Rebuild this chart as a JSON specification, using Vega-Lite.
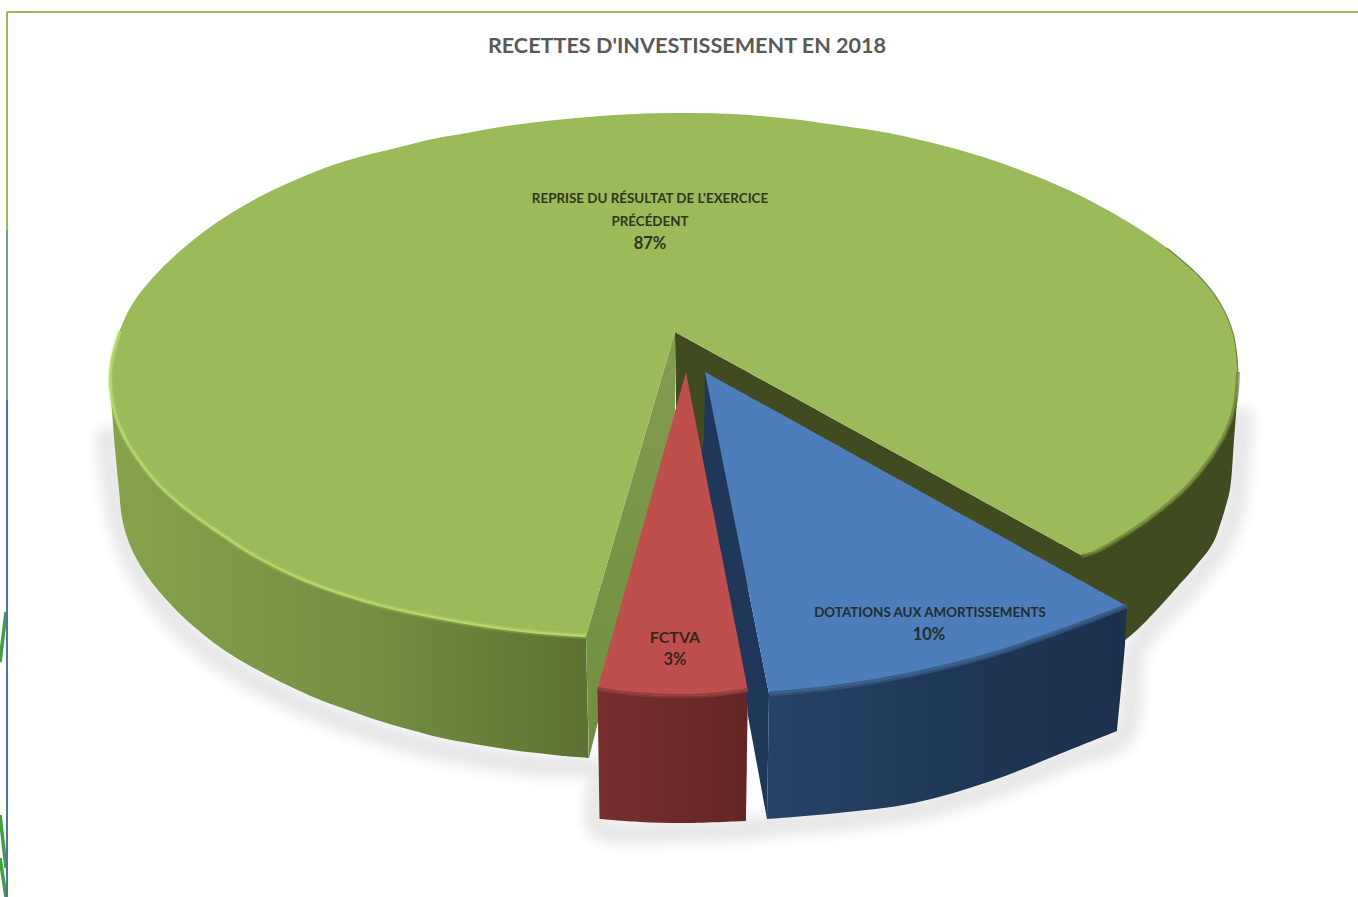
{
"$schema":"https://vega.github.io/schema/vega-lite/v6.json",
"width":1358,"height":897,"padding":0,
"autosize":{"type":"none"},
"background":"#ffffff",
"view":{"stroke":null},
"datasets":{
"labels":[
{"slice":"Reprise","text":"REPRISE DU RÉSULTAT DE L'EXERCICE","x":650,"y":199},
{"slice":"Reprise","text":"PRÉCÉDENT","x":650,"y":222},
{"slice":"Dotations","text":"DOTATIONS AUX AMORTISSEMENTS","x":930,"y":613}
],
"bigLabels":[{"slice":"FCTVA","text":"FCTVA","x":675,"y":638}],
"shares":[
{"slice":"Reprise","share":0.87,"x":650,"y":244},
{"slice":"Dotations","share":0.10,"x":929,"y":635},
{"slice":"FCTVA","share":0.03,"x":675,"y":660}
],
"title":[{"text":"RECETTES D'INVESTISSEMENT EN 2018","x":687,"y":47}],
"outlines":[
{"piece":"shadow","i":0,"x":108,"y":440},{"piece":"shadow","i":1,"x":115,"y":500},{"piece":"shadow","i":2,"x":124,"y":535},{"piece":"shadow","i":3,"x":136,"y":565},{"piece":"shadow","i":4,"x":160,"y":602},{"piece":"shadow","i":5,"x":198,"y":642},{"piece":"shadow","i":6,"x":245,"y":675},{"piece":"shadow","i":7,"x":289,"y":698},{"piece":"shadow","i":8,"x":348,"y":722},{"piece":"shadow","i":9,"x":411,"y":742},{"piece":"shadow","i":10,"x":474,"y":756},{"piece":"shadow","i":11,"x":537,"y":765},{"piece":"shadow","i":12,"x":595,"y":772},{"piece":"shadow","i":13,"x":600,"y":826},{"piece":"shadow","i":14,"x":685,"y":831},{"piece":"shadow","i":15,"x":745,"y":829},{"piece":"shadow","i":16,"x":767,"y":826},{"piece":"shadow","i":17,"x":838,"y":820},{"piece":"shadow","i":18,"x":914,"y":810},{"piece":"shadow","i":19,"x":991,"y":788},{"piece":"shadow","i":20,"x":1067,"y":758},{"piece":"shadow","i":21,"x":1122,"y":735},{"piece":"shadow","i":22,"x":1135,"y":650},{"piece":"shadow","i":23,"x":1156,"y":620},{"piece":"shadow","i":24,"x":1185,"y":590},{"piece":"shadow","i":25,"x":1205,"y":566},{"piece":"shadow","i":26,"x":1222,"y":540},{"piece":"shadow","i":27,"x":1233,"y":510},{"piece":"shadow","i":28,"x":1238,"y":470},{"piece":"shadow","i":29,"x":1241,"y":420},

{"piece":"wallDark","i":0,"x":675,"y":332},{"piece":"wallDark","i":0.5,"x":675,"y":332},{"piece":"wallDark","i":1,"x":1081,"y":555},{"piece":"wallDark","i":1.5,"x":1081,"y":555},{"piece":"wallDark","i":2,"x":1130,"y":532},{"piece":"wallDark","i":3,"x":1162,"y":509},{"piece":"wallDark","i":4,"x":1189,"y":485},{"piece":"wallDark","i":5,"x":1210,"y":459},{"piece":"wallDark","i":6,"x":1226,"y":432},{"piece":"wallDark","i":7,"x":1235,"y":405},{"piece":"wallDark","i":8,"x":1238,"y":378},{"piece":"wallDark","i":9,"x":1237,"y":400},{"piece":"wallDark","i":10,"x":1234,"y":440},{"piece":"wallDark","i":11,"x":1230,"y":489},{"piece":"wallDark","i":12,"x":1225,"y":509},{"piece":"wallDark","i":13,"x":1219,"y":528},{"piece":"wallDark","i":14,"x":1215,"y":539},{"piece":"wallDark","i":15,"x":1208,"y":551},{"piece":"wallDark","i":16,"x":1199,"y":562},{"piece":"wallDark","i":17,"x":1189,"y":574},{"piece":"wallDark","i":18,"x":1179,"y":585},{"piece":"wallDark","i":19,"x":1164,"y":602},{"piece":"wallDark","i":20,"x":1149,"y":618},{"piece":"wallDark","i":21,"x":1137,"y":630},{"piece":"wallDark","i":22,"x":1124,"y":641},{"piece":"wallDark","i":22.5,"x":1124,"y":641},{"piece":"wallDark","i":23,"x":1100,"y":655},{"piece":"wallDark","i":23.5,"x":1100,"y":655},{"piece":"wallDark","i":24,"x":770,"y":640},{"piece":"wallDark","i":24.5,"x":770,"y":640},{"piece":"wallDark","i":25,"x":720,"y":520},{"piece":"wallDark","i":25.5,"x":720,"y":520},{"piece":"wallDark","i":26,"x":700,"y":450},{"piece":"wallDark","i":26.5,"x":700,"y":450},{"piece":"wallDark","i":27,"x":686,"y":400},{"piece":"wallDark","i":27.5,"x":686,"y":400},{"piece":"wallDark","i":28,"x":676,"y":410},{"piece":"wallDark","i":28.5,"x":676,"y":410},

{"piece":"sideGreen","i":0,"x":109,"y":378},{"piece":"sideGreen","i":1,"x":112,"y":405},{"piece":"sideGreen","i":2,"x":121,"y":432},{"piece":"sideGreen","i":3,"x":137,"y":459},{"piece":"sideGreen","i":4,"x":158,"y":485},{"piece":"sideGreen","i":5,"x":185,"y":509},{"piece":"sideGreen","i":6,"x":217,"y":532},{"piece":"sideGreen","i":7,"x":254,"y":556},{"piece":"sideGreen","i":8,"x":296,"y":577},{"piece":"sideGreen","i":9,"x":342,"y":594},{"piece":"sideGreen","i":10,"x":391,"y":608},{"piece":"sideGreen","i":11,"x":444,"y":619},{"piece":"sideGreen","i":12,"x":499,"y":628},{"piece":"sideGreen","i":13,"x":556,"y":634},{"piece":"sideGreen","i":14,"x":586,"y":636},{"piece":"sideGreen","i":14.5,"x":586,"y":636},{"piece":"sideGreen","i":15,"x":589,"y":758},{"piece":"sideGreen","i":15.5,"x":589,"y":758},{"piece":"sideGreen","i":16,"x":563,"y":756},{"piece":"sideGreen","i":17,"x":537,"y":753},{"piece":"sideGreen","i":18,"x":505,"y":749},{"piece":"sideGreen","i":19,"x":474,"y":744},{"piece":"sideGreen","i":20,"x":442,"y":738},{"piece":"sideGreen","i":21,"x":411,"y":730},{"piece":"sideGreen","i":22,"x":380,"y":721},{"piece":"sideGreen","i":23,"x":348,"y":710},{"piece":"sideGreen","i":24,"x":318,"y":699},{"piece":"sideGreen","i":25,"x":289,"y":686},{"piece":"sideGreen","i":26,"x":267,"y":675},{"piece":"sideGreen","i":27,"x":245,"y":663},{"piece":"sideGreen","i":28,"x":221,"y":648},{"piece":"sideGreen","i":29,"x":198,"y":630},{"piece":"sideGreen","i":30,"x":177,"y":611},{"piece":"sideGreen","i":31,"x":158,"y":590},{"piece":"sideGreen","i":32,"x":145,"y":573},{"piece":"sideGreen","i":33,"x":134,"y":554},{"piece":"sideGreen","i":34,"x":127,"y":537},{"piece":"sideGreen","i":35,"x":122,"y":518},{"piece":"sideGreen","i":36,"x":119,"y":490},{"piece":"sideGreen","i":37,"x":115,"y":449},{"piece":"sideGreen","i":38,"x":112,"y":410},

{"piece":"innerGreen","i":0,"x":675,"y":332},{"piece":"innerGreen","i":1,"x":675,"y":412},{"piece":"innerGreen","i":2,"x":600,"y":690},{"piece":"innerGreen","i":3,"x":598,"y":722},{"piece":"innerGreen","i":4,"x":589,"y":758},{"piece":"innerGreen","i":5,"x":586,"y":636},

{"piece":"topGreen","i":0,"x":675,"y":332},{"piece":"topGreen","i":0.5,"x":675,"y":332},{"piece":"topGreen","i":1,"x":1081,"y":555},{"piece":"topGreen","i":1.5,"x":1081,"y":555},{"piece":"topGreen","i":2,"x":1093,"y":553},{"piece":"topGreen","i":3,"x":1130,"y":532},{"piece":"topGreen","i":4,"x":1162,"y":509},{"piece":"topGreen","i":5,"x":1189,"y":485},{"piece":"topGreen","i":6,"x":1210,"y":459},{"piece":"topGreen","i":7,"x":1226,"y":432},{"piece":"topGreen","i":8,"x":1235,"y":405},{"piece":"topGreen","i":9,"x":1238,"y":372},{"piece":"topGreen","i":10,"x":1233,"y":333},{"piece":"topGreen","i":11,"x":1220,"y":303},{"piece":"topGreen","i":12,"x":1200,"y":277},{"piece":"topGreen","i":13,"x":1167,"y":248},{"piece":"topGreen","i":14,"x":1133,"y":225},{"piece":"topGreen","i":15,"x":1083,"y":197},{"piece":"topGreen","i":16,"x":1033,"y":175},{"piece":"topGreen","i":17,"x":983,"y":157},{"piece":"topGreen","i":18,"x":933,"y":143},{"piece":"topGreen","i":19,"x":883,"y":132},{"piece":"topGreen","i":20,"x":850,"y":127},{"piece":"topGreen","i":21,"x":791,"y":119},{"piece":"topGreen","i":22,"x":733,"y":114},{"piece":"topGreen","i":23,"x":674,"y":113},{"piece":"topGreen","i":24,"x":615,"y":115},{"piece":"topGreen","i":25,"x":556,"y":120},{"piece":"topGreen","i":26,"x":500,"y":127},{"piece":"topGreen","i":27,"x":467,"y":133},{"piece":"topGreen","i":28,"x":433,"y":139},{"piece":"topGreen","i":29,"x":400,"y":147},{"piece":"topGreen","i":30,"x":367,"y":155},{"piece":"topGreen","i":31,"x":333,"y":165},{"piece":"topGreen","i":32,"x":300,"y":178},{"piece":"topGreen","i":33,"x":267,"y":193},{"piece":"topGreen","i":34,"x":233,"y":212},{"piece":"topGreen","i":35,"x":197,"y":237},{"piece":"topGreen","i":36,"x":160,"y":270},{"piece":"topGreen","i":37,"x":133,"y":303},{"piece":"topGreen","i":38,"x":120,"y":330},{"piece":"topGreen","i":39,"x":110,"y":367},{"piece":"topGreen","i":40,"x":112,"y":405},{"piece":"topGreen","i":41,"x":121,"y":432},{"piece":"topGreen","i":42,"x":137,"y":459},{"piece":"topGreen","i":43,"x":158,"y":485},{"piece":"topGreen","i":44,"x":185,"y":509},{"piece":"topGreen","i":45,"x":217,"y":532},{"piece":"topGreen","i":46,"x":254,"y":556},{"piece":"topGreen","i":47,"x":296,"y":577},{"piece":"topGreen","i":48,"x":342,"y":594},{"piece":"topGreen","i":49,"x":391,"y":608},{"piece":"topGreen","i":50,"x":444,"y":619},{"piece":"topGreen","i":51,"x":499,"y":628},{"piece":"topGreen","i":52,"x":556,"y":634},{"piece":"topGreen","i":53,"x":586,"y":636},{"piece":"topGreen","i":53.5,"x":586,"y":636},

{"piece":"rimLight","i":0,"x":120,"y":331},{"piece":"rimLight","i":1,"x":111,"y":367},{"piece":"rimLight","i":2,"x":113,"y":405},{"piece":"rimLight","i":3,"x":122,"y":432},{"piece":"rimLight","i":4,"x":138,"y":459},{"piece":"rimLight","i":5,"x":159,"y":485},{"piece":"rimLight","i":6,"x":186,"y":509},{"piece":"rimLight","i":7,"x":218,"y":532},{"piece":"rimLight","i":8,"x":255,"y":556},{"piece":"rimLight","i":9,"x":297,"y":577},{"piece":"rimLight","i":10,"x":342,"y":594},{"piece":"rimLight","i":11,"x":391,"y":608},{"piece":"rimLight","i":12,"x":444,"y":619},{"piece":"rimLight","i":13,"x":499,"y":628},{"piece":"rimLight","i":14,"x":556,"y":634},{"piece":"rimLight","i":15,"x":586,"y":636},

{"piece":"rimDark","i":0,"x":1081,"y":556},{"piece":"rimDark","i":1,"x":1093,"y":553},{"piece":"rimDark","i":2,"x":1130,"y":532},{"piece":"rimDark","i":3,"x":1162,"y":509},{"piece":"rimDark","i":4,"x":1189,"y":485},{"piece":"rimDark","i":5,"x":1210,"y":459},{"piece":"rimDark","i":6,"x":1226,"y":432},{"piece":"rimDark","i":7,"x":1235,"y":405},{"piece":"rimDark","i":8,"x":1238,"y":372},

{"piece":"edgeRight","i":0,"x":1238,"y":372},{"piece":"edgeRight","i":1,"x":1233,"y":333},{"piece":"edgeRight","i":2,"x":1220,"y":303},{"piece":"edgeRight","i":3,"x":1200,"y":277},{"piece":"edgeRight","i":4,"x":1167,"y":248},

{"piece":"wallRed","i":0,"x":597.5,"y":689},{"piece":"wallRed","i":0.5,"x":597.5,"y":689},{"piece":"wallRed","i":1,"x":635,"y":694},{"piece":"wallRed","i":2,"x":673,"y":696},{"piece":"wallRed","i":3,"x":711,"y":695},{"piece":"wallRed","i":4,"x":748,"y":690},{"piece":"wallRed","i":4.5,"x":748,"y":690},{"piece":"wallRed","i":5,"x":746,"y":821},{"piece":"wallRed","i":5.5,"x":746,"y":821},{"piece":"wallRed","i":6,"x":685,"y":823},{"piece":"wallRed","i":7,"x":640,"y":822},{"piece":"wallRed","i":8,"x":599.5,"y":819},{"piece":"wallRed","i":8.5,"x":599.5,"y":819},

{"piece":"innerBlue","i":0,"x":705,"y":372},{"piece":"innerBlue","i":1,"x":769,"y":694},{"piece":"innerBlue","i":2,"x":767,"y":819},{"piece":"innerBlue","i":3,"x":748,"y":716},{"piece":"innerBlue","i":4,"x":746,"y":690},{"piece":"innerBlue","i":5,"x":713,"y":520},{"piece":"innerBlue","i":6,"x":701,"y":455},{"piece":"innerBlue","i":7,"x":704,"y":440},

{"piece":"wallBlue","i":0,"x":769,"y":694},{"piece":"wallBlue","i":0.5,"x":769,"y":694},{"piece":"wallBlue","i":1,"x":838,"y":687},{"piece":"wallBlue","i":2,"x":914,"y":674},{"piece":"wallBlue","i":3,"x":991,"y":655},{"piece":"wallBlue","i":4,"x":1067,"y":629},{"piece":"wallBlue","i":5,"x":1127,"y":606},{"piece":"wallBlue","i":5.5,"x":1127,"y":606},{"piece":"wallBlue","i":6,"x":1125,"y":644},{"piece":"wallBlue","i":7,"x":1117,"y":731},{"piece":"wallBlue","i":7.5,"x":1117,"y":731},{"piece":"wallBlue","i":8,"x":1067,"y":751},{"piece":"wallBlue","i":9,"x":991,"y":781},{"piece":"wallBlue","i":10,"x":914,"y":803},{"piece":"wallBlue","i":11,"x":838,"y":813},{"piece":"wallBlue","i":12,"x":767,"y":819},{"piece":"wallBlue","i":12.5,"x":767,"y":819},

{"piece":"topRed","i":0,"x":686,"y":372},{"piece":"topRed","i":0.5,"x":686,"y":372},{"piece":"topRed","i":1,"x":748,"y":690},{"piece":"topRed","i":1.5,"x":748,"y":690},{"piece":"topRed","i":2,"x":711,"y":695},{"piece":"topRed","i":3,"x":673,"y":696},{"piece":"topRed","i":4,"x":635,"y":694},{"piece":"topRed","i":5,"x":597.5,"y":689},{"piece":"topRed","i":5.5,"x":597.5,"y":689},

{"piece":"topBlue","i":0,"x":705,"y":372},{"piece":"topBlue","i":0.5,"x":705,"y":372},{"piece":"topBlue","i":1,"x":1127,"y":606},{"piece":"topBlue","i":1.5,"x":1127,"y":606},{"piece":"topBlue","i":2,"x":1067,"y":629},{"piece":"topBlue","i":3,"x":991,"y":655},{"piece":"topBlue","i":4,"x":914,"y":674},{"piece":"topBlue","i":5,"x":838,"y":687},{"piece":"topBlue","i":6,"x":769,"y":694},{"piece":"topBlue","i":6.5,"x":769,"y":694},

{"piece":"rimRed","i":0,"x":597.5,"y":689},{"piece":"rimRed","i":1,"x":635,"y":694},{"piece":"rimRed","i":2,"x":673,"y":696},{"piece":"rimRed","i":3,"x":711,"y":695},{"piece":"rimRed","i":4,"x":748,"y":690},

{"piece":"rimBlue","i":0,"x":769,"y":694},{"piece":"rimBlue","i":1,"x":838,"y":687},{"piece":"rimBlue","i":2,"x":914,"y":674},{"piece":"rimBlue","i":3,"x":991,"y":655},{"piece":"rimBlue","i":4,"x":1067,"y":629},{"piece":"rimBlue","i":5,"x":1127,"y":606},

{"piece":"frameTop","i":0,"x":7,"y":12},{"piece":"frameTop","i":1,"x":1358,"y":12},
{"piece":"frameLeftA","i":0,"x":7,"y":12},{"piece":"frameLeftA","i":1,"x":7,"y":230},
{"piece":"frameLeftB","i":0,"x":7,"y":230},{"piece":"frameLeftB","i":1,"x":7,"y":400},
{"piece":"frameLeftC","i":0,"x":7,"y":400},{"piece":"frameLeftC","i":1,"x":7,"y":897},
{"piece":"stripeA","i":0,"x":6,"y":612},{"piece":"stripeA","i":1,"x":0,"y":662},
{"piece":"stripeB","i":0,"x":0,"y":815},{"piece":"stripeB","i":1,"x":6,"y":868},
{"piece":"stripeC","i":0,"x":0,"y":858},{"piece":"stripeC","i":1,"x":6,"y":897}
]},
"data":{"name":"outlines"},
"encoding":{
"x":{"field":"x","type":"quantitative","axis":null,"scale":{"domain":[0,1358],"nice":false,"zero":false}},
"y":{"field":"y","type":"quantitative","axis":null,"scale":{"domain":[897,0],"nice":false,"zero":false}},
"order":{"field":"i","type":"quantitative"}
},
"layer":[
{"transform":[{"filter":"datum.piece==='stripeA'||datum.piece==='stripeB'||datum.piece==='stripeC'"}],"mark":{"type":"line","stroke":"#1f8f1f","strokeWidth":3.5,"opacity":0.85,"clip":true},"encoding":{"detail":{"field":"piece"}}},
{"transform":[{"filter":"datum.piece==='frameTop'"}],"mark":{"type":"line","stroke":"#9bbb59","strokeWidth":2}},
{"transform":[{"filter":"datum.piece==='frameLeftA'"}],"mark":{"type":"line","stroke":"#9bbb59","strokeWidth":2}},
{"transform":[{"filter":"datum.piece==='frameLeftB'"}],"mark":{"type":"line","stroke":"#76a08c","strokeWidth":2}},
{"transform":[{"filter":"datum.piece==='frameLeftC'"}],"mark":{"type":"line","stroke":"#4a72b0","strokeWidth":2}},

{"transform":[{"filter":"datum.piece==='shadow'"}],"mark":{"type":"line","interpolate":"catmull-rom","stroke":"#777777","strokeWidth":44,"opacity":0.012,"strokeJoin":"round","strokeCap":"round"}},
{"transform":[{"filter":"datum.piece==='shadow'"}],"mark":{"type":"line","interpolate":"catmull-rom","stroke":"#777777","strokeWidth":39,"opacity":0.015,"strokeJoin":"round","strokeCap":"round"}},
{"transform":[{"filter":"datum.piece==='shadow'"}],"mark":{"type":"line","interpolate":"catmull-rom","stroke":"#777777","strokeWidth":34,"opacity":0.018,"strokeJoin":"round","strokeCap":"round"}},
{"transform":[{"filter":"datum.piece==='shadow'"}],"mark":{"type":"line","interpolate":"catmull-rom","stroke":"#777777","strokeWidth":29,"opacity":0.02,"strokeJoin":"round","strokeCap":"round"}},
{"transform":[{"filter":"datum.piece==='shadow'"}],"mark":{"type":"line","interpolate":"catmull-rom","stroke":"#777777","strokeWidth":24,"opacity":0.022,"strokeJoin":"round","strokeCap":"round"}},
{"transform":[{"filter":"datum.piece==='shadow'"}],"mark":{"type":"line","interpolate":"catmull-rom","stroke":"#777777","strokeWidth":19,"opacity":0.025,"strokeJoin":"round","strokeCap":"round"}},
{"transform":[{"filter":"datum.piece==='shadow'"}],"mark":{"type":"line","interpolate":"catmull-rom","stroke":"#777777","strokeWidth":14,"opacity":0.025,"strokeJoin":"round","strokeCap":"round"}},
{"transform":[{"filter":"datum.piece==='shadow'"}],"mark":{"type":"line","interpolate":"catmull-rom","stroke":"#777777","strokeWidth":9,"opacity":0.025,"strokeJoin":"round","strokeCap":"round"}},

{"transform":[{"filter":"datum.piece==='wallDark'"}],"mark":{"type":"line","interpolate":"catmull-rom","fill":"#404b20","strokeWidth":0}},
{"transform":[{"filter":"datum.piece==='sideGreen'"}],"mark":{"type":"line","interpolate":"catmull-rom","strokeWidth":0,"fill":{"gradient":"linear","x1":0,"y1":0,"x2":1,"y2":0,"stops":[{"offset":0,"color":"#86a34b"},{"offset":0.55,"color":"#748e43"},{"offset":1,"color":"#5d7232"}]}}},
{"transform":[{"filter":"datum.piece==='innerGreen'"}],"mark":{"type":"line","strokeWidth":0,"fill":{"gradient":"linear","x1":0,"y1":0,"x2":0,"y2":1,"stops":[{"offset":0,"color":"#829c50"},{"offset":1,"color":"#6f8f3f"}]}}},
{"transform":[{"filter":"datum.piece==='topGreen'"}],"mark":{"type":"line","interpolate":"catmull-rom","fill":"#9bba59","strokeWidth":0}},

{"transform":[{"filter":"datum.piece==='rimLight'"}],"mark":{"type":"line","interpolate":"catmull-rom","stroke":"#b6da6c","strokeWidth":6,"opacity":0.25,"strokeJoin":"round"}},
{"transform":[{"filter":"datum.piece==='rimLight'"}],"mark":{"type":"line","interpolate":"catmull-rom","stroke":"#b4d76a","strokeWidth":2.5,"strokeJoin":"round"}},
{"transform":[{"filter":"datum.piece==='rimDark'"}],"mark":{"type":"line","interpolate":"catmull-rom","stroke":"#6b7f38","strokeWidth":4,"opacity":0.7,"strokeJoin":"round"}},
{"transform":[{"filter":"datum.piece==='edgeRight'"}],"mark":{"type":"line","interpolate":"catmull-rom","stroke":"#55662c","strokeWidth":1.2,"opacity":0.7}},

{"transform":[{"filter":"datum.piece==='wallRed'"}],"mark":{"type":"line","interpolate":"catmull-rom","strokeWidth":0,"fill":{"gradient":"linear","x1":0,"y1":0,"x2":1,"y2":0,"stops":[{"offset":0,"color":"#772f2e"},{"offset":1,"color":"#642524"}]}}},
{"transform":[{"filter":"datum.piece==='innerBlue'"}],"mark":{"type":"line","fill":"#1f3758","strokeWidth":0}},
{"transform":[{"filter":"datum.piece==='wallBlue'"}],"mark":{"type":"line","interpolate":"catmull-rom","strokeWidth":0,"fill":{"gradient":"linear","x1":0,"y1":0,"x2":1,"y2":0,"stops":[{"offset":0,"color":"#264468"},{"offset":0.5,"color":"#1f3757"},{"offset":1,"color":"#1c314d"}]}}},
{"transform":[{"filter":"datum.piece==='topRed'"}],"mark":{"type":"line","interpolate":"catmull-rom","fill":"#bf4f4c","strokeWidth":0}},
{"transform":[{"filter":"datum.piece==='topBlue'"}],"mark":{"type":"line","interpolate":"catmull-rom","fill":"#4d7ebb","strokeWidth":0}},
{"transform":[{"filter":"datum.piece==='rimRed'"}],"mark":{"type":"line","interpolate":"catmull-rom","stroke":"#8d3b39","strokeWidth":4,"opacity":0.8}},
{"transform":[{"filter":"datum.piece==='rimBlue'"}],"mark":{"type":"line","interpolate":"catmull-rom","stroke":"#35587f","strokeWidth":5,"opacity":0.8}},

{"data":{"name":"title"},"mark":{"type":"text","font":"Lato","fontWeight":"bold","fontSize":21.6,"color":"#595959","align":"center","baseline":"middle"},"encoding":{"text":{"field":"text"},"order":{"value":null}}},
{"data":{"name":"labels"},"mark":{"type":"text","font":"Lato","fontWeight":"bold","fontSize":13.4,"color":"#1a2010","opacity":0.85,"align":"center","baseline":"middle"},"encoding":{"text":{"field":"text"},"order":{"value":null}}},
{"data":{"name":"bigLabels"},"mark":{"type":"text","font":"Lato","fontWeight":"bold","fontSize":16,"color":"#1a2010","opacity":0.85,"align":"center","baseline":"middle"},"encoding":{"text":{"field":"text"},"order":{"value":null}}},
{"data":{"name":"shares"},"mark":{"type":"text","font":"Lato","fontWeight":"bold","fontSize":16.5,"color":"#1a2010","opacity":0.85,"align":"center","baseline":"middle"},"encoding":{"text":{"field":"share","format":".0%"},"order":{"value":null}}}
]
}
